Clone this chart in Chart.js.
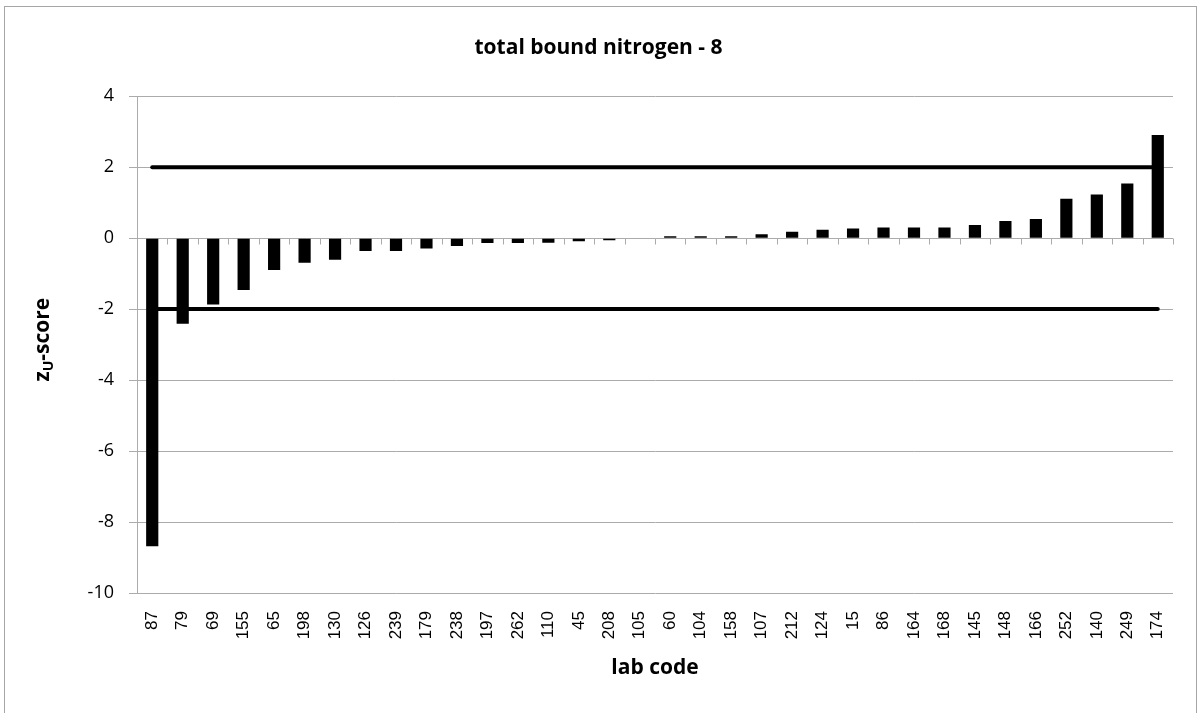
<!DOCTYPE html>
<html>
<head>
<meta charset="utf-8">
<script src="https://cdn.jsdelivr.net/npm/chart.js@4/dist/chart.umd.min.js"></script>
<style>
  html, body { margin: 0; padding: 0; background: #fff; }
  #wrap { width: 1197px; height: 713px; }
</style>
</head>
<body>
<div id="wrap"><canvas id="chart" width="1197" height="713"></canvas></div>
<script>
// lab codes, in plotted order
var labCodes = ['87','79','69','155','65','198','130','126','239','179','238','197','262','110','45','208','105','60','104','158','107','212','124','15','86','164','168','145','148','166','252','140','249','174'];

// zU-scores
var zScores = [-8.68,-2.41,-1.87,-1.46,-0.90,-0.69,-0.61,-0.36,-0.36,-0.29,-0.22,-0.14,-0.14,-0.13,-0.085,-0.056,-0.02,0.05,0.05,0.05,0.11,0.18,0.24,0.27,0.30,0.30,0.30,0.37,0.48,0.54,1.11,1.23,1.54,2.91];

// limit lines at +2 / -2
var upperLimit = [2,2,2,2,2,2,2,2,2,2,2,2,2,2,2,2,2,2,2,2,2,2,2,2,2,2,2,2,2,2,2,2,2,2];
var lowerLimit = [-2,-2,-2,-2,-2,-2,-2,-2,-2,-2,-2,-2,-2,-2,-2,-2,-2,-2,-2,-2,-2,-2,-2,-2,-2,-2,-2,-2,-2,-2,-2,-2,-2,-2];

var yTicks = [4, 2, 0, -2, -4, -6, -8, -10];

var gridGrey = '#ababab';

// frame round the whole picture, axis tick marks at zero, and the y title with its subscript
var extras = {
  id: 'extras',
  beforeDraw: function(chart){
    var ctx = chart.ctx;
    ctx.save();
    ctx.fillStyle = '#fff';
    ctx.fillRect(0, 0, chart.width, chart.height);
    ctx.strokeStyle = '#a6a6a6';
    ctx.lineWidth = 1;
    ctx.strokeRect(4.5, 6.5, 1192, 720);
    ctx.restore();
  },
  beforeDatasetsDraw: function(chart){
    var ctx = chart.ctx, x = chart.scales.x, y = chart.scales.y;
    var y0 = Math.round(y.getPixelForValue(0)) + 0.5;
    var step = (x.right - x.left) / labCodes.length;
    ctx.save();
    ctx.strokeStyle = gridGrey;
    ctx.lineWidth = 1;
    ctx.beginPath();
    for (var i = 0; i <= labCodes.length; i++) {
      var px = Math.round(x.left + i * step) + 0.5;
      ctx.moveTo(px, y0);
      ctx.lineTo(px, y0 + 6);
    }
    ctx.stroke();
    ctx.restore();
  },
  afterDraw: function(chart){
    var ctx = chart.ctx, area = chart.chartArea;
    ctx.save();
    ctx.translate(43, (area.top + area.bottom) / 2 - 5);
    ctx.rotate(-Math.PI / 2);
    ctx.fillStyle = '#000';
    ctx.textBaseline = 'middle';
    var big = 'bold 21px "Open Sans"', small = 'bold 14px "Open Sans"';
    ctx.font = big; var w1 = ctx.measureText('z').width; var w3 = ctx.measureText('-score').width;
    ctx.font = small; var w2 = ctx.measureText('U').width;
    var sx = -(w1 + w2 + w3) / 2;
    ctx.font = big; ctx.fillText('z', sx, 0);
    ctx.font = small; ctx.fillText('U', sx + w1, 6);
    ctx.font = big; ctx.fillText('-score', sx + w1 + w2, 0);
    ctx.restore();
  }
};

var canvas = document.getElementById('chart').getContext('2d');
window.bar = new Chart(canvas, {
  type: 'bar',
  data: {
    labels: labCodes,
    datasets: [{
      type: 'line',
      data: upperLimit,
      borderColor: '#000',
      borderWidth: 4,
      borderCapStyle: 'round',
      pointRadius: 0,
      order: 0
    }, {
      type: 'line',
      data: lowerLimit,
      borderColor: '#000',
      borderWidth: 4,
      borderCapStyle: 'round',
      pointRadius: 0,
      order: 0
    }, {
      data: zScores,
      backgroundColor: '#000',
      borderWidth: 0,
      categoryPercentage: 1,
      barPercentage: 0.4,
      order: 1
    }]
  },
  options: {
    responsive: false,
    animation: false,
    layout: { padding: { left: 24, right: 24, top: 0, bottom: 0 } },
    plugins: {
      legend: { display: false },
      tooltip: { enabled: false },
      title: {
        display: true,
        text: 'total bound nitrogen - 8',
        color: '#000',
        font: { family: '"Open Sans"', size: 21, weight: 'bold', lineHeight: 1.2 },
        padding: { top: 35, bottom: 36 }
      }
    },
    scales: {
      x: {
        grid: { display: false, drawTicks: false },
        border: { display: false },
        ticks: {
          color: '#000',
          font: { family: '"Liberation Sans"', size: 17 },
          minRotation: 90,
          maxRotation: 90,
          autoSkip: false,
          padding: 18
        },
        title: {
          display: true,
          text: 'lab code',
          color: '#000',
          font: { family: '"Open Sans"', size: 21, weight: 'bold', lineHeight: 1.2 },
          padding: { top: 0, bottom: 32 }
        },
        afterFit: function(scale){ scale.height = 120; }
      },
      y: {
        min: -10,
        max: 4,
        afterBuildTicks: function(scale){
          scale.ticks = yTicks.map(function(v){ return { value: v }; });
        },
        grid: { color: gridGrey, tickLength: 8, drawTicks: true },
        border: { display: true, color: gridGrey },
        ticks: {
          color: '#000',
          font: { family: '"Open Sans"', size: 18 },
          padding: 15
        },
        afterFit: function(scale){ scale.width = 113; }
      }
    }
  },
  plugins: [extras]
});
</script>
</body>
</html>
